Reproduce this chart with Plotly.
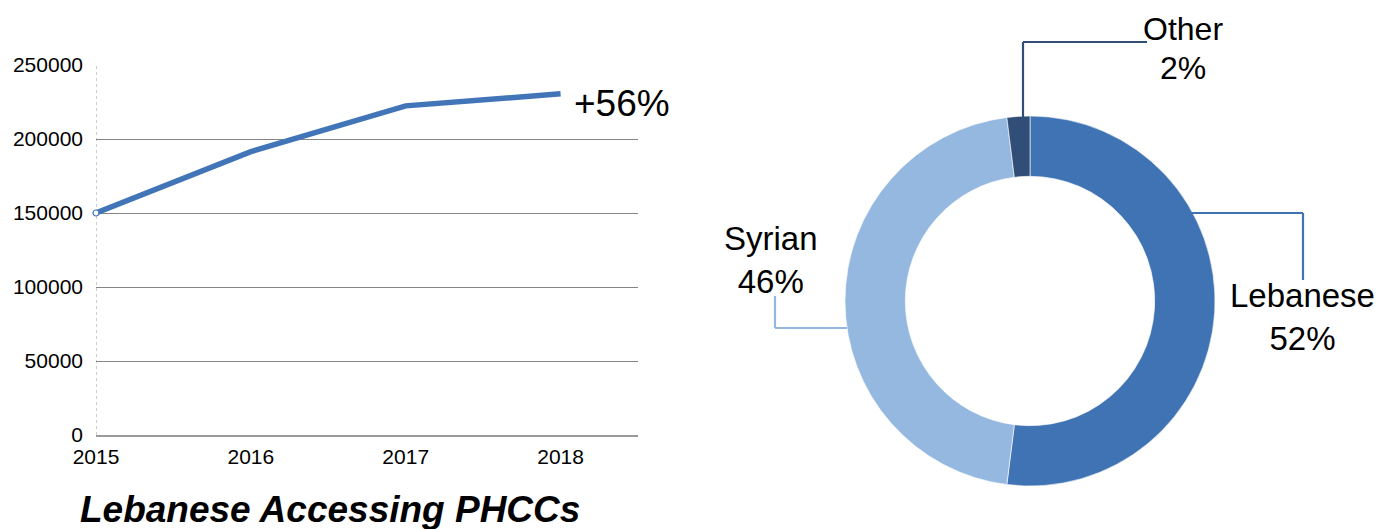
import plotly.graph_objects as go

# ---- data ----
years = [2015, 2016, 2017, 2018]
lebanese_accessing = [150000, 191500, 222400, 230500]
y_ticks = [0, 50000, 100000, 150000, 200000, 250000]
growth_label = "+56%"
chart_title = "Lebanese Accessing PHCCs"

nat_labels = ["Lebanese", "Syrian", "Other"]
nat_values = [52, 46, 2]
nat_colors = ["#4073B4", "#95B8E0", "#304E78"]

W, H = 1393, 529
OFF = 8  # page body margin offset
FONT = "Liberation Sans, Arial, Helvetica, sans-serif"


def px(x):
    return (x - OFF) / W


def py(y):
    return 1 - (y - OFF) / H


fig = go.Figure()

fig.add_trace(go.Scatter(
    x=years, y=lebanese_accessing, mode="lines",
    line=dict(color="#4274B8", width=5.5), showlegend=False,
    hoverinfo="x+y", xaxis="x", yaxis="y"))
fig.add_trace(go.Scatter(
    x=years[:1], y=lebanese_accessing[:1], mode="markers",
    marker=dict(color="white", size=6, line=dict(color="#4274B8", width=1.2)),
    showlegend=False, xaxis="x", yaxis="y", cliponaxis=False))

fig.add_trace(go.Pie(
    labels=nat_labels, values=nat_values, hole=0.674, sort=False,
    direction="clockwise", rotation=0, textinfo="none",
    marker=dict(colors=nat_colors, line=dict(color="white", width=0.6)),
    domain=dict(x=[px(845), px(1215)], y=[py(486), py(116)]),
    showlegend=False))

shapes = []
# dotted vertical axis at first year
shapes.append(dict(type="line", xref="x", yref="y", x0=years[0], x1=years[0],
                   y0=0, y1=y_ticks[-1], line=dict(color="#9a9a9a", width=1, dash="dot"),
                   layer="below"))


def seg(x0, y0, x1, y1, color):
    shapes.append(dict(type="line", xref="paper", yref="paper",
                       x0=px(x0), y0=py(y0), x1=px(x1), y1=py(y1),
                       line=dict(color=color, width=2.2)))


# leader lines
seg(1190, 213, 1303, 213, nat_colors[0])
seg(1303, 213, 1303, 280, nat_colors[0])
seg(847, 328, 775, 328, nat_colors[1])
seg(775, 328, 775, 296, nat_colors[1])
seg(1023, 118, 1023, 42, nat_colors[2])
seg(1023, 42, 1147, 42, nat_colors[2])


def note(text, x, y, size):
    return dict(text=text, x=px(x), y=py(y), xref="paper", yref="paper",
                xanchor="center", yanchor="middle", showarrow=False, borderpad=0,
                font=dict(size=size, color="black", family=FONT))


annotations = [
    note(growth_label, 622, 104, 37),
    note("<b><i>" + chart_title + "</i></b>", 330, 509, 37),
    note(f"{nat_labels[0]}<br>{nat_values[0]}%", 1302, 317, 33),
    note(f"{nat_labels[1]}<br>{nat_values[1]}%", 771, 260, 33),
    note(nat_labels[2], 1183, 29, 32),
    note(f"{nat_values[2]}%", 1183, 68, 32),
]

fig.update_layout(
    width=W, height=H, margin=dict(l=0, r=0, t=0, b=0, autoexpand=False),
    paper_bgcolor="white", plot_bgcolor="white",
    font=dict(family=FONT, color="black"),
    xaxis=dict(domain=[px(96), px(638)], range=[2015, 2018.5],
               tickvals=years, ticktext=[str(y) for y in years],
               showgrid=False, zeroline=False, showline=True,
               linecolor="#9a9a9a", linewidth=2, ticks="", automargin=False,
               tickfont=dict(size=21, color="black"), ticklabelstandoff=2),
    yaxis=dict(domain=[py(435), py(65)], range=[0, 250000],
               tickvals=y_ticks, tickformat="d", automargin=False,
               showgrid=True, gridcolor="#858585", gridwidth=1.2,
               zeroline=False, showline=False, ticks="",
               tickfont=dict(size=21, color="black"), ticklabelstandoff=12),
    shapes=shapes, annotations=annotations,
)

fig.write_html("out.html")
